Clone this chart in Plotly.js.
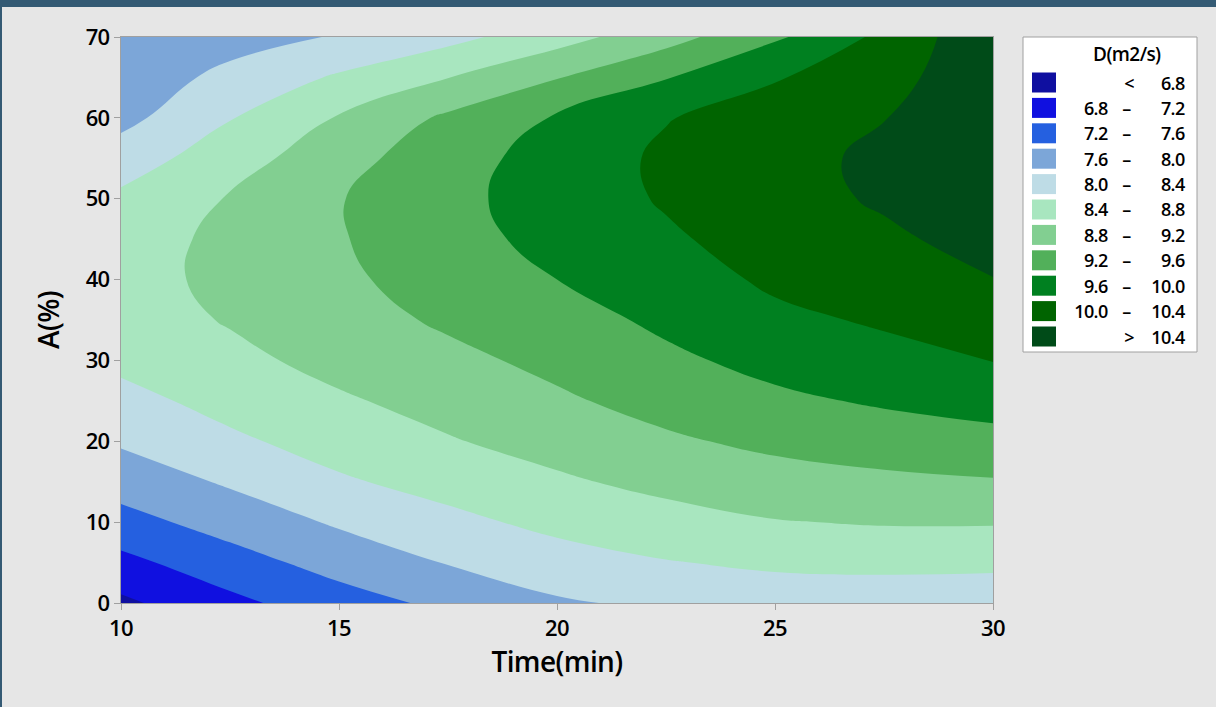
<!DOCTYPE html>
<html>
<head>
<meta charset="utf-8">
<script src="https://cdn.plot.ly/plotly-3.0.1.min.js"></script>
<style>
  html, body { margin: 0; padding: 0; background: #e6e6e6; }
  #wrap { position: relative; width: 1216px; height: 707px; overflow: hidden; }
  #chart { position: absolute; left: 0; top: 0; width: 1216px; height: 707px; }
  #chart svg text { letter-spacing: -0.6px; }
  #topbar { position: absolute; left: 0; top: 0; width: 1216px; height: 7px; background: #345a74; }
  #leftbar { position: absolute; left: 0; top: 0; width: 2px; height: 707px; background: #345a74; }
</style>
</head>
<body>
<div id="wrap">
  <div id="chart"></div>
  <div id="topbar"></div>
  <div id="leftbar"></div>
</div>
<script>
// Grid of the response surface: Time (min) across, A (%) up.
const timeMin = [10, 12.5, 15, 17.5, 20, 22.5, 25, 27.5, 30];
const aPct = [0, 5, 10, 15, 20, 25, 30, 35, 40, 45, 50, 55, 60, 65, 70];

// D (m2/s) read along each Time column, from A = 0 up to A = 70
const dAt10   = [6.72, 7.09, 7.46, 7.77, 8.05, 8.28, 8.49, 8.61, 8.65, 8.61, 8.48, 8.20, 7.88, 7.75, 7.62];
const dAt12_5 = [7.10, 7.44, 7.76, 8.05, 8.33, 8.53, 8.70, 8.83, 8.90, 8.90, 8.83, 8.62, 8.38, 8.11, 7.84];
const dAt15   = [7.43, 7.75, 8.05, 8.35, 8.56, 8.75, 8.92, 9.04, 9.12, 9.17, 9.18, 9.05, 8.83, 8.45, 8.03];
const dAt17_5 = [7.69, 8.02, 8.30, 8.54, 8.77, 8.94, 9.10, 9.26, 9.39, 9.47, 9.50, 9.44, 9.27, 8.79, 8.28];
const dAt20   = [7.95, 8.24, 8.50, 8.74, 8.95, 9.14, 9.30, 9.44, 9.60, 9.71, 9.77, 9.76, 9.64, 9.18, 8.64];
const dAt22_5 = [8.08, 8.38, 8.65, 8.91, 9.14, 9.34, 9.52, 9.68, 9.81, 9.94, 10.04, 10.07, 9.98, 9.58, 9.05];
const dAt25   = [8.17, 8.47, 8.78, 9.04, 9.29, 9.52, 9.72, 9.91, 10.07, 10.18, 10.25, 10.27, 10.19, 9.97, 9.53];
const dAt27_5 = [8.17, 8.50, 8.83, 9.12, 9.39, 9.65, 9.87, 10.05, 10.19, 10.33, 10.45, 10.48, 10.39, 10.25, 10.10];
const dAt30   = [8.145, 8.49, 8.83, 9.17, 9.48, 9.75, 10.01, 10.20, 10.39, 10.54, 10.62, 10.66, 10.68, 10.70, 10.71];

// Contour levels and band colours (lowest band first)
const levelStart = 6.8;
const levelEnd = 10.4;
const levelStep = 0.4;
const bandColors = ['#0f0fa0', '#1010e0', '#2560e0', '#7ca6d8', '#bedce6',
                    '#a8e6bf', '#82cf91', '#52b05a', '#008020', '#006400', '#004b18'];
const bandLabels = [['<', '', '6.8'], ['6.8', '–', '7.2'], ['7.2', '–', '7.6'], ['7.6', '–', '8.0'],
                    ['8.0', '–', '8.4'], ['8.4', '–', '8.8'], ['8.8', '–', '9.2'], ['9.2', '–', '9.6'],
                    ['9.6', '–', '10.0'], ['10.0', '–', '10.4'], ['>', '', '10.4']];
const legendTitle = 'D(m2/s)';

const columns = [dAt10, dAt12_5, dAt15, dAt17_5, dAt20, dAt22_5, dAt25, dAt27_5, dAt30];
// z[row = A index][col = Time index]
const z = aPct.map((_, j) => columns.map(col => col[j]));

const colorscale = bandColors.map((c, k) => [k / (bandColors.length - 1), c]);

const FONT = 'Open Sans, DejaVu Sans, sans-serif';

const trace = {
  type: 'contour',
  x: timeMin,
  y: aPct,
  z: z,
  autocontour: false,
  contours: { start: levelStart, end: levelEnd, size: levelStep, coloring: 'fill', showlines: false },
  line: { width: 0, smoothing: 1.3 },
  colorscale: colorscale,
  showscale: false,
  hoverinfo: 'skip'
};

// Plot area in pixels: x 121..993, y 37..603
const L = 121, R = 993, T = 37, B = 603;
const px = v => (v - L) / (R - L);
const py = v => (B - v) / (B - T);

const shapes = [];
const annotations = [];

// Legend box
shapes.push({ type: 'rect', xref: 'paper', yref: 'paper',
  x0: px(1023), x1: px(1197), y0: py(352), y1: py(37),
  fillcolor: '#ffffff', line: { color: '#a0a0a0', width: 1 } });
annotations.push({ xref: 'paper', yref: 'paper', x: px(1127), y: py(54),
  text: legendTitle, showarrow: false, xanchor: 'center', yanchor: 'middle',
  font: { family: FONT, size: 19, weight: 600, color: '#000' } });

bandLabels.forEach((lab, k) => {
  const cy = 82.5 + 25.4 * k;
  shapes.push({ type: 'rect', xref: 'paper', yref: 'paper',
    x0: px(1032), x1: px(1056), y0: py(cy + 10), y1: py(cy - 10),
    fillcolor: bandColors[k], line: { width: 0 } });
  const f = { family: FONT, size: 18, weight: 600, color: '#000' };
  if (lab[1] === '') {
    annotations.push({ xref: 'paper', yref: 'paper', x: px(1129), y: py(cy), text: lab[0],
      showarrow: false, xanchor: 'center', yanchor: 'middle', font: f });
  } else {
    annotations.push({ xref: 'paper', yref: 'paper', x: px(1111), y: py(cy), text: lab[0],
      showarrow: false, xanchor: 'right', yanchor: 'middle', font: f });
    annotations.push({ xref: 'paper', yref: 'paper', x: px(1126), y: py(cy), text: lab[1],
      showarrow: false, xanchor: 'center', yanchor: 'middle', font: f });
  }
  annotations.push({ xref: 'paper', yref: 'paper', x: px(1188), y: py(cy), text: lab[2],
    showarrow: false, xanchor: 'right', yanchor: 'middle', font: f });
});

const axisCommon = {
  showgrid: false, zeroline: false,
  showline: true, linecolor: '#a0a0a0', linewidth: 1, mirror: true,
  ticks: 'outside', ticklen: 6, tickcolor: '#a0a0a0', tickwidth: 1,
  tickfont: { family: FONT, size: 22, weight: 600, color: '#000' }
};

const layout = {
  width: 1216, height: 707,
  margin: { l: L, r: 1216 - R, t: T, b: 707 - B, pad: 0 },
  paper_bgcolor: '#e6e6e6',
  plot_bgcolor: '#e6e6e6',
  showlegend: false,
  xaxis: Object.assign({}, axisCommon, {
    range: [10, 30], tickvals: [10, 15, 20, 25, 30],
    title: { text: 'Time(min)', font: { family: FONT, size: 28, weight: 600, color: '#000' }, standoff: 8 }
  }),
  yaxis: Object.assign({}, axisCommon, {
    range: [0, 70], tickvals: [0, 10, 20, 30, 40, 50, 60, 70],
    title: { text: 'A(%)', font: { family: FONT, size: 28, weight: 600, color: '#000' }, standoff: 16 }
  }),
  shapes: shapes,
  annotations: annotations
};

Plotly.newPlot('chart', [trace], layout, { displayModeBar: false, staticPlot: true });
</script>
</body>
</html>
